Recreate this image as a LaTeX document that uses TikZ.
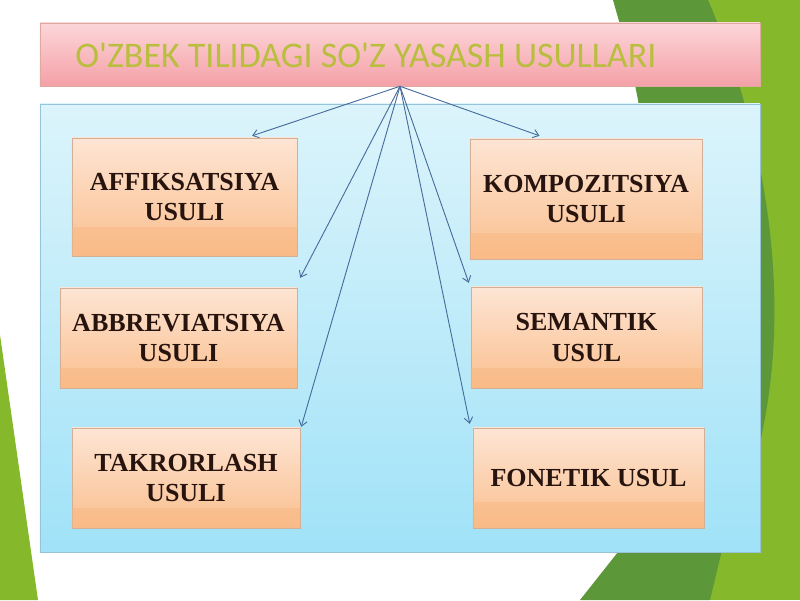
\documentclass[tikz,border=0pt]{standalone}
\usepackage{fontspec}
\setmainfont{Liberation Serif}
\newfontfamily\titlefont{Carlito}
\usetikzlibrary{arrows.meta,calc,shadows}
\definecolor{gdark}{RGB}{92,152,58}
\definecolor{glight}{RGB}{134,184,44}
\definecolor{pinktop}{RGB}{252,214,217}
\definecolor{pinkbot}{RGB}{244,160,167}
\definecolor{pinkedge}{RGB}{222,170,160}
\definecolor{bluetop}{RGB}{220,244,251}
\definecolor{bluebot}{RGB}{160,226,248}
\definecolor{blueedge}{RGB}{150,195,215}
\definecolor{peachtop}{RGB}{253,229,212}
\definecolor{peachbot}{RGB}{250,191,142}
\definecolor{peachband}{RGB}{248,182,128}
\definecolor{peachedge}{RGB}{210,175,150}
\definecolor{boxtext}{RGB}{40,20,14}
\definecolor{titletext}{RGB}{186,190,62}
\definecolor{arrowcol}{RGB}{70,108,156}
\tikzset{
  method/.style={rectangle, top color=peachtop, bottom color=peachbot,
    draw=peachedge, line width=0.3pt, align=center, text=boxtext,
    font=\fontsize{18.5}{21.5}\selectfont\bfseries, inner sep=0pt,
    drop shadow={shadow xshift=0.7pt, shadow yshift=-0.9pt, opacity=0.3}},
  band/.style={fill=peachband, opacity=0.45},
  link/.style={draw=arrowcol, line width=0.65pt, -{Straight Barb[length=4pt,width=6pt]}}
}
\begin{document}
\begin{tikzpicture}[x=0.025cm, y=-0.025cm]
\useasboundingbox (0,0) rectangle (800,600);
\fill[white] (0,0) rectangle (800,600);
% green background shapes
\fill[glight] (680,0) -- (800,0) -- (800,600) -- (680,600) -- cycle;
\fill[gdark] (613,0) -- (708,0) .. controls (760,120) and (820,350) .. (722,550)
  -- (710,600) -- (580,600) -- (618,552) .. controls (640,400) and (650,200) .. (638,100)
  .. controls (630,60) .. (613,0) -- cycle;
\fill[glight] (0,335) -- (38,600) -- (0,600) -- cycle;
% title bar
\node[rectangle, top color=pinktop, bottom color=pinkbot, draw=pinkedge, line width=0.4pt,
  minimum width=18cm, minimum height=1.575cm, inner sep=0pt] (tbar) at (400,54.5) {};
\node[anchor=base west, inner sep=0pt, text=titletext,
  font=\titlefont\fontsize{25.6}{30}\selectfont] (ttext) at (75,67) {O'ZBEK TILIDAGI SO'Z YASASH USULLARI};
% panel
\node[rectangle, top color=bluetop, bottom color=bluebot, draw=blueedge, line width=0.4pt,
  minimum width=18cm, minimum height=11.2cm, inner sep=0pt] (panel) at (400,328) {};
% boxes
\node[method, minimum width=5.625cm, minimum height=2.95cm] (aff) at (184.5,197) {AFFIKSATSIYA\\USULI};
\node[method, minimum width=5.8cm, minimum height=3.0cm] (komp) at (586,199) {KOMPOZITSIYA\\USULI};
\node[method, minimum width=5.925cm, minimum height=2.5cm] (abbr) at (178.5,338) {ABBREVIATSIYA\\USULI};
\node[method, minimum width=5.775cm, minimum height=2.525cm] (sem) at (586.5,337.5) {SEMANTIK\\USUL};
\node[method, minimum width=5.7cm, minimum height=2.5cm] (tak) at (186,478) {TAKRORLASH\\USULI};
\node[method, minimum width=5.775cm, minimum height=2.5cm] (fon) at (588.5,478) {FONETIK USUL};
% lower bands
\fill[band] ($(aff.south west)+(0.3,-29)$) rectangle ($(aff.south east)+(-0.3,0)$);
\fill[band] ($(komp.south west)+(0.3,-26)$) rectangle ($(komp.south east)+(-0.3,0)$);
\fill[band] ($(abbr.south west)+(0.3,-20)$) rectangle ($(abbr.south east)+(-0.3,0)$);
\fill[band] ($(sem.south west)+(0.3,-20)$) rectangle ($(sem.south east)+(-0.3,0)$);
\fill[band] ($(tak.south west)+(0.3,-20)$) rectangle ($(tak.south east)+(-0.3,0)$);
\fill[band] ($(fon.south west)+(0.3,-26)$) rectangle ($(fon.south east)+(-0.3,0)$);
% arrows
\draw[link] (tbar.south) -- ($(aff.north west)!0.8!(aff.north east)+(0,-2)$);
\draw[link] (tbar.south) -- ($(komp.north west)!0.3!(komp.north east)+(0,-3)$);
\draw[link] (tbar.south) -- ([shift={(3,-10)}]abbr.north east);
\draw[link] (tbar.south) -- ([shift={(-2,-4)}]sem.north west);
\draw[link] (tbar.south) -- ([shift={(1,-1)}]tak.north east);
\draw[link] (tbar.south) -- ([shift={(-3,-4)}]fon.north west);
\end{tikzpicture}
\end{document}
